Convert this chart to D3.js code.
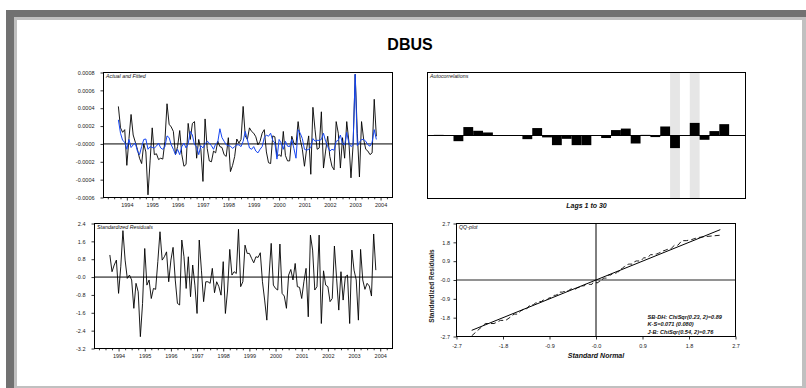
<!DOCTYPE html>
<html>
<head>
<meta charset="utf-8">
<script src="https://cdn.jsdelivr.net/npm/d3@7"></script>
<style>
  html, body { margin: 0; padding: 0; background: #fff; }
  svg { display: block; font-family: "Liberation Sans", Arial, sans-serif; }
</style>
</head>
<body>
<svg id="chart" width="806" height="388"></svg>
<script>
// ---- data -------------------------------------------------------------
const title = "DBUS";
const firstObs = 1993 + 8 / 12;        // September 1993, monthly observations
const valueUnit = 1e-4;                 // actual / fitted values are stored in units of 1e-4

const actual = [
  4.2, 1.8, 1.3, 1.6, -2.4, 0.6, 3.3, 1.0, 0.2, -0.6,
  -1.6, -2.2, 0.0, -0.9, -5.7, -1.9, 1.8, -1.2, -1.1, -1.75,
  -1.6, -1.7, 0.3, 4.5, 2.2, 1.9, 1.4, -1.2, -0.3, 1.5,
  -1.2, -2.5, -2.3, 2.3, 0.5, 2.3, 2.5, -1.6, 0.5, -0.6,
  -4.2, 2.8, -0.5, -1.9, -2.0, -0.8, -1.0, 0.3, -0.3, -0.4,
  -1.2, -1.4, 0.7, -3.1, -2.4, -1.4, 0.55, 0.1, 0.5, 4.2,
  0.9, 0.5, 1.8, 1.4, 1.2, 0.8, -0.1, 0.3, 1.2, 1.6,
  -0.9, -2.1, -2.2, 0.9, 0.8, -1.4, -1.2, -1.4, 1.4, -1.3,
  -1.9, -1.9, 0.86, 0.1, -0.1, 2.5, 0.5, -0.6, -2.5, -0.6,
  0.9, -3.4, 4.1, 1.6, -0.6, -0.45, 3.6, -2.7, -0.8, 0.86,
  -1.4, -2.5, -2.9, 2.5, 1.2, -2.7, 0.7, -1.6, 2.5, 0.3,
  -3.8, -0.1, 7.8, 1.2, -3.7, 2.5, 0.5, -0.6, -0.8, -1.2,
  -1.0, 5.0, 0.85
];

const fitted = [
  2.7, 1.2, 0.4, 0.2, -0.6, 0.5, -0.4, -0.1, 0.1, -0.8,
  -1.2, -0.3, 0.5, 0.55, -0.6, -0.3, -0.4, -0.45, -0.25, 0.1,
  -0.45, -0.6, -0.3, 0.9, 0.7, -0.1, -0.6, -1.2, -0.6, -1.2,
  -0.3, 0.1, -0.45, 0.0, 1.4, 1.0, -0.1, -0.3, -1.2, -0.2,
  -0.45, 0.0, 0.3, 0.1, -0.2, -0.6, 0.0, 0.2, 1.7, 0.7,
  0.3, -0.1, -0.2, -0.25, -0.5, -0.3, -0.1, -0.1, -0.3, 0.3,
  1.4, 0.5, -0.45, -0.6, -0.3, -0.8, -1.0, -0.6, -0.3, 0.7,
  1.0, 0.86, 1.2, 0.4, 0.1, -1.7, 0.5, 0.1, -0.6, 0.3,
  -0.25, -0.3, 0.5, -0.5, -1.6, 1.6, 1.2, 0.6, -0.6, -0.7,
  -0.6, -0.4, 0.6, 0.3, 0.4, 0.4, 0.5, 1.2, 0.3, -0.3,
  -0.8, -0.6, -0.7, 0.3, 0.4, 1.0, 0.0, -0.1, 1.3, 0.1,
  -0.3, -0.1, 7.8, -0.2, 0.2, 0.5, 0.5, 0.3, -0.1, -0.25,
  0.2, 1.6, 0.5
];

const stdResiduals = [
  0.99, 0.24, 0.54, 0.76, -0.73, 0.46, 2.08, 0.76, -0.06, 0.09,
  -0.13, -1.4, -0.28, -0.66, -2.67, -1.18, 1.28, -0.36, -0.13, -0.96,
  -0.51, -0.55, 0.69, 2.03, 0.76, 0.91, 1.13, -0.21, 0.76, 1.33,
  -0.13, -1.18, -1.25, 1.66, 0.91, -0.51, 0.91, -0.88, 0.54, -0.36,
  -1.63, 1.66, 0.31, -1.1, -0.21, -0.21, -0.28, 0.39, -0.7, -0.21,
  -0.43, -0.81, 0.69, -1.63, -0.58, 1.24, 0.09, 0.24, 0.16, 2.14,
  -0.43, -0.21, 1.43, 1.06, 1.06, 0.84, 0.64, 0.91, 0.88, 1.09,
  -0.21, -1.03, -1.93, 0.01, 1.51, -0.36, -0.51, -0.58, 1.48, -0.73,
  -0.85, -1.4, 0.09, 0.34, -0.13, 0.61, -0.43, -0.46, -0.96, -0.21,
  0.39, -1.78, 1.88, 1.21, -0.58, -0.43, 1.88, -2.08, 0.28, -0.36,
  -0.43, -1.1, -0.96, 1.39, -0.06, -1.48, 0.24, -1.03, 0.01, 0.09,
  -2.08, 1.21, 0.31, -0.13, -1.93, 1.24, -0.13, -0.55, -0.28, -0.4,
  -0.85, 1.93, 0.31
];

// autocorrelations of the residuals, lags 1..30
const acf = [
  0.01, -0.005, -0.09, 0.134, 0.075, 0.048, 0.004, 0.004, 0.004, -0.058,
  0.118, -0.03, -0.153, -0.053, -0.153, -0.153, 0.005, -0.04, 0.086, 0.11,
  -0.127, 0.01, -0.025, 0.143, -0.2, 0.005, 0.2, -0.068, 0.07, 0.18
];
const shadedLags = [25, 27];

const levelTicks = [0.0008, 0.0006, 0.0004, 0.0002, 0, -0.0002, -0.0004, -0.0006];
const residTicks = [2.4, 1.6, 0.8, 0, -0.8, -1.6, -2.4, -3.2];
const qqTicks = [-2.7, -1.8, -0.9, 0, 0.9, 1.8, 2.7];
const yearTicks = [1994, 1995, 1996, 1997, 1998, 1999, 2000, 2001, 2002, 2003, 2004];

const panelTitles = ["Actual and Fitted", "Autocorrelations", "Standardized Residuals", "QQ-plot"];
const acfAxisTitle = "Lags 1 to 30";
const qqXTitle = "Standard Normal";
const qqYTitle = "Standardized Residuals";
const qqStats = ["SB-DH: ChiSqr(0.23, 2)=0.89", "K-S=0.071 (0.080)", "J-B: ChiSqr(0.54, 2)=0.76"];

// ---- helpers ----------------------------------------------------------
const svg = d3.select("#chart");
const dates = actual.map((_, i) => firstObs + i / 12);
const timeDomain = [1993.08, 2004.47];
const fmt = (digits) => (v) => (v === 0 ? "-" + (0).toFixed(digits) : v.toFixed(digits));
const TICK_FONT = 5.5;
const INK = "#000";

// inverse standard normal CDF (Acklam's rational approximation)
function normInv(p) {
  const a = [-3.969683028665376e+01, 2.209460984245205e+02, -2.759285104469687e+02, 1.383577518672690e+02, -3.066479806614716e+01, 2.506628277459239e+00];
  const b = [-5.447609879822406e+01, 1.615858368580409e+02, -1.556989798598866e+02, 6.680131188771972e+01, -1.328068155288572e+01];
  const c = [-7.784894002430293e-03, -3.223964580411365e-01, -2.400758277161838e+00, -2.549671669208510e+00, 4.374664141464968e+00, 2.938163982698783e+00];
  const d = [7.784695709041462e-03, 3.224671290700398e-01, 2.445134137142996e+00, 3.754408661907416e+00];
  const lo = 0.02425;
  if (p < lo) {
    const q = Math.sqrt(-2 * Math.log(p));
    return (((((c[0]*q+c[1])*q+c[2])*q+c[3])*q+c[4])*q+c[5]) / ((((d[0]*q+d[1])*q+d[2])*q+d[3])*q+1);
  }
  if (p > 1 - lo) {
    const q = Math.sqrt(-2 * Math.log(1 - p));
    return -(((((c[0]*q+c[1])*q+c[2])*q+c[3])*q+c[4])*q+c[5]) / ((((d[0]*q+d[1])*q+d[2])*q+d[3])*q+1);
  }
  const q = p - 0.5, r = q * q;
  return (((((a[0]*r+a[1])*r+a[2])*r+a[3])*r+a[4])*r+a[5])*q / (((((b[0]*r+b[1])*r+b[2])*r+b[3])*r+b[4])*r+1);
}

function styleAxis(g) {
  g.select(".domain").remove();
  g.selectAll(".tick line").attr("stroke", INK).attr("stroke-width", 0.8);
  g.selectAll(".tick text")
    .attr("font-size", TICK_FONT)
    .attr("font-family", "'Liberation Sans', Arial, sans-serif")
    .attr("fill", "#222");
}

function frame(p) {
  svg.append("rect")
    .attr("x", p.x0).attr("y", p.y0)
    .attr("width", p.x1 - p.x0).attr("height", p.y1 - p.y0)
    .attr("fill", "none").attr("stroke", INK).attr("stroke-width", 1);
}

function panelTitle(p, text) {
  svg.append("text")
    .attr("x", p.x0 + 2.5).attr("y", p.y0 + 5.8)
    .attr("font-size", 5.3).attr("font-style", "italic")
    .attr("fill", "#111")
    .text(text);
}

function timeAxis(x, p) {
  const g = svg.append("g").attr("transform", `translate(0,${p.y1})`);
  g.call(d3.axisBottom(x).tickValues(yearTicks).tickSize(3).tickPadding(2.6).tickFormat(d3.format("d")));
  styleAxis(g);
  const quarters = d3.range(1993.25, 2004.5, 0.25).filter(t => t % 1 !== 0);
  const gq = svg.append("g").attr("transform", `translate(0,${p.y1})`);
  gq.call(d3.axisBottom(x).tickValues(quarters).tickSize(1.8).tickFormat(""));
  styleAxis(gq);
}

// ---- outer frame -------------------------------------------------------
svg.append("rect").attr("x", 0).attr("y", 0).attr("width", 806).attr("height", 388).attr("fill", "#fff");
svg.append("rect").attr("x", 6).attr("y", 10).attr("width", 800).attr("height", 378).attr("fill", "#717171");
svg.append("rect").attr("x", 14).attr("y", 17).attr("width", 792).attr("height", 371).attr("fill", "#c0c0c0");
svg.append("rect").attr("x", 17).attr("y", 20).attr("width", 785).attr("height", 366).attr("fill", "#fff");

svg.append("text")
  .attr("x", 410).attr("y", 49.5)
  .attr("text-anchor", "middle")
  .attr("font-size", 16).attr("font-weight", "bold")
  .attr("fill", "#000")
  .text(title);

// ---- panel 1: actual and fitted ----------------------------------------
{
  const p = { x0: 103.5, x1: 392.5, y0: 72.5, y1: 197.5 };
  const x = d3.scaleLinear().domain(timeDomain).range([p.x0, p.x1]);
  const y = d3.scaleLinear().domain([-0.0006, 0.0008]).range([p.y1, p.y0]);

  const gy = svg.append("g").attr("transform", `translate(${p.x0},0)`);
  gy.call(d3.axisLeft(y).tickValues(levelTicks).tickSize(3).tickPadding(6).tickFormat(fmt(4)));
  styleAxis(gy);
  timeAxis(x, p);

  svg.append("line")
    .attr("x1", p.x0).attr("x2", p.x1).attr("y1", y(0)).attr("y2", y(0))
    .attr("stroke", INK).attr("stroke-width", 1);

  const line = d3.line().x((d, i) => x(dates[i])).y(d => y(d * valueUnit));
  svg.append("path").datum(actual).attr("d", line)
    .attr("fill", "none").attr("stroke", "#000").attr("stroke-width", 0.9).attr("stroke-linejoin", "round");
  svg.append("path").datum(fitted).attr("d", line)
    .attr("fill", "none").attr("stroke", "#1646f2").attr("stroke-width", 1).attr("stroke-linejoin", "round");

  frame(p);
  panelTitle(p, panelTitles[0]);
}

// ---- panel 2: autocorrelations -----------------------------------------
{
  const p = { x0: 427.5, x1: 745.5, y0: 72.5, y1: 198.5 };
  const lags = d3.range(1, acf.length + 1);
  const x = d3.scaleLinear().domain([-0.64, 31.66]).range([p.x0, p.x1]);
  const y = d3.scaleLinear().domain([-1, 1]).range([p.y1, p.y0]);

  svg.append("g").selectAll("rect").data(shadedLags).join("rect")
    .attr("x", d => x(d - 1)).attr("width", d => x(d) - x(d - 1))
    .attr("y", p.y0).attr("height", p.y1 - p.y0)
    .attr("fill", "#e6e6e6");

  svg.append("g").selectAll("rect").data(lags).join("rect")
    .attr("x", d => x(d - 1)).attr("width", d => x(d) - x(d - 1))
    .attr("y", d => Math.min(y(acf[d - 1]), y(0)))
    .attr("height", d => Math.abs(y(acf[d - 1]) - y(0)))
    .attr("fill", "#000");

  svg.append("line")
    .attr("x1", p.x0).attr("x2", p.x1).attr("y1", y(0)).attr("y2", y(0))
    .attr("stroke", INK).attr("stroke-width", 1);

  frame(p);
  panelTitle(p, panelTitles[1]);

  svg.append("text")
    .attr("x", (p.x0 + p.x1) / 2).attr("y", p.y1 + 9)
    .attr("text-anchor", "middle")
    .attr("font-size", 7).attr("font-weight", "bold").attr("font-style", "italic")
    .attr("fill", "#111")
    .text(acfAxisTitle);
}

// ---- panel 3: standardized residuals -----------------------------------
{
  const p = { x0: 94.5, x1: 392.5, y0: 223.5, y1: 348.5 };
  const x = d3.scaleLinear().domain(timeDomain).range([p.x0, p.x1]);
  const y = d3.scaleLinear().domain([-3.2, 2.4]).range([p.y1, p.y0]);

  const gy = svg.append("g").attr("transform", `translate(${p.x0},0)`);
  gy.call(d3.axisLeft(y).tickValues(residTicks).tickSize(3).tickPadding(6).tickFormat(fmt(1)));
  styleAxis(gy);
  timeAxis(x, p);

  svg.append("line")
    .attr("x1", p.x0).attr("x2", p.x1).attr("y1", y(0)).attr("y2", y(0))
    .attr("stroke", INK).attr("stroke-width", 1);

  const line = d3.line().x((d, i) => x(dates[i])).y(d => y(d));
  svg.append("path").datum(stdResiduals).attr("d", line)
    .attr("fill", "none").attr("stroke", "#000").attr("stroke-width", 0.9).attr("stroke-linejoin", "round");

  frame(p);
  panelTitle(p, panelTitles[2]);
}

// ---- panel 4: QQ plot ---------------------------------------------------
{
  const p = { x0: 456.5, x1: 735.5, y0: 223.5, y1: 336.5 };
  const x = d3.scaleLinear().domain([-2.7, 2.7]).range([p.x0, p.x1]);
  const y = d3.scaleLinear().domain([-2.7, 2.7]).range([p.y1, p.y0]);

  const gy = svg.append("g").attr("transform", `translate(${p.x0},0)`);
  gy.call(d3.axisLeft(y).tickValues(qqTicks.slice().reverse()).tickSize(3).tickPadding(3.5).tickFormat(fmt(1)));
  styleAxis(gy);
  const gx = svg.append("g").attr("transform", `translate(0,${p.y1})`);
  gx.call(d3.axisBottom(x).tickValues(qqTicks).tickSize(3).tickPadding(5).tickFormat(fmt(1)));
  styleAxis(gx);

  svg.append("line")
    .attr("x1", p.x0).attr("x2", p.x1).attr("y1", y(0)).attr("y2", y(0))
    .attr("stroke", "#6e6e6e").attr("stroke-width", 1.6);
  svg.append("line")
    .attr("x1", x(0)).attr("x2", x(0)).attr("y1", p.y0).attr("y2", p.y1)
    .attr("stroke", INK).attr("stroke-width", 1);

  const n = stdResiduals.length;
  const sorted = stdResiduals.slice().sort(d3.ascending);
  const quant = sorted.map((_, i) => normInv((i + 1) / (n + 1)));
  const qqPoints = sorted.map((v, i) => [quant[i], v]);
  const ends = [quant[0], quant[n - 1]];

  svg.append("line")
    .attr("x1", x(ends[0])).attr("y1", y(ends[0]))
    .attr("x2", x(ends[1])).attr("y2", y(ends[1]))
    .attr("stroke", "#000").attr("stroke-width", 1);

  svg.append("path").datum(qqPoints)
    .attr("d", d3.line().x(d => x(d[0])).y(d => y(d[1])))
    .attr("fill", "none").attr("stroke", "#000").attr("stroke-width", 0.9)
    .attr("stroke-dasharray", "5,3");

  frame(p);
  panelTitle(p, panelTitles[3]);

  svg.append("text")
    .attr("x", (p.x0 + p.x1) / 2).attr("y", p.y1 + 21)
    .attr("text-anchor", "middle")
    .attr("font-size", 7).attr("font-weight", "bold").attr("font-style", "italic")
    .attr("fill", "#111")
    .text(qqXTitle);

  svg.append("text")
    .attr("transform", `translate(${p.x0 - 22.5},${(p.y0 + p.y1) / 2 + 6}) rotate(-90)`)
    .attr("text-anchor", "middle")
    .attr("font-size", 6.5).attr("font-weight", "bold")
    .attr("fill", "#222")
    .text(qqYTitle);

  svg.append("g").selectAll("text").data(qqStats).join("text")
    .attr("x", 647.5).attr("y", (d, i) => 318.5 + i * 7.5)
    .attr("font-size", 5.6).attr("font-weight", "bold").attr("font-style", "italic")
    .attr("fill", "#111")
    .text(d => d);
}
</script>
</body>
</html>
